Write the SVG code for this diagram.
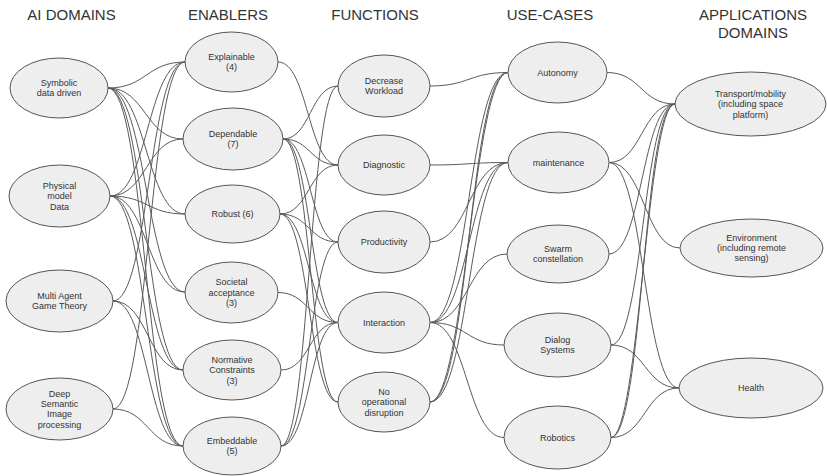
<svg xmlns="http://www.w3.org/2000/svg" width="827" height="476" viewBox="0 0 827 476">
<style>
.bg{fill:#ffffff}
.n ellipse{fill:#eeeeee;stroke:#555555;stroke-width:1}
.n text{font-family:"Liberation Sans",Arial,sans-serif;font-size:9px;fill:#333333;text-anchor:middle}
.t{font-family:"Liberation Sans",Arial,sans-serif;font-size:15px;fill:#333333;text-anchor:middle}
#edges path{fill:none;stroke:#5a5a5a;stroke-width:1}
</style>
<rect class="bg" x="0" y="0" width="827" height="476"/>
<g id="titles">
<text class="t" x="71.5" y="19.5">AI DOMAINS</text>
<text class="t" x="228" y="19.5">ENABLERS</text>
<text class="t" x="375" y="19.5">FUNCTIONS</text>
<text class="t" x="550" y="19.5">USE-CASES</text>
<text class="t" x="753" y="19.5">APPLICATIONS</text>
<text class="t" x="753" y="37.5">DOMAINS</text>
</g>
<g id="edges">
<!-- AI domains -> enablers -->
<path d="M108,88 C146.5,88 146.5,62 185,62"/>
<path d="M108,88 C145.5,88 145.5,139 183,139"/>
<path d="M108,88 C146.5,88 146.5,214 185,214"/>
<path d="M108,88 C146.5,88 146.5,292 185,292"/>
<path d="M108,88 C145.5,88 145.5,370 183,370"/>
<path d="M108,88 C145.5,88 145.5,446 183,446"/>
<path d="M110,196 C147.5,196 147.5,62 185,62"/>
<path d="M110,196 C146.5,196 146.5,139 183,139"/>
<path d="M110,196 C147.5,196 147.5,214 185,214"/>
<path d="M110,196 C147.5,196 147.5,292 185,292"/>
<path d="M110,196 C146.5,196 146.5,370 183,370"/>
<path d="M110,196 C146.5,196 146.5,446 183,446"/>
<path d="M113,301 C149,301 149,62 185,62"/>
<path d="M113,301 C148,301 148,370 183,370"/>
<path d="M113,301 C148,301 148,446 183,446"/>
<path d="M113,409 C149,409 149,62 185,62"/>
<path d="M113,409 C148,409 148,446 183,446"/>
<!-- enablers -> functions -->
<path d="M278,62 C308,62 308,165 338,165"/>
<path d="M283,139 C310.5,139 310.5,86 338,86"/>
<path d="M283,139 C310.5,139 310.5,165 338,165"/>
<path d="M283,139 C310.5,139 310.5,242 338,242"/>
<path d="M283,139 C310.5,139 310.5,322.5 338,322.5"/>
<path d="M283,139 C310.5,139 310.5,402 338,402"/>
<path d="M280,214 C309,214 309,165 338,165"/>
<path d="M280,214 C309,214 309,242 338,242"/>
<path d="M280,214 C309,214 309,322.5 338,322.5"/>
<path d="M280,214 C309,214 309,402 338,402"/>
<path d="M278,292.5 C308,292.5 308,322.5 338,322.5"/>
<path d="M281,370 C309.5,370 309.5,322.5 338,322.5"/>
<path d="M281,446 C309.5,446 309.5,322.5 338,322.5"/>
<path d="M281,446 C309.5,446 309.5,86 338,86"/>
<path d="M281,446 C309.5,446 309.5,242 338,242"/>
<!-- functions -> use-cases -->
<path d="M430,86 C469,86 469,72.5 508,72.5"/>
<path d="M430,165 C469,165 469,162.5 508,162.5"/>
<path d="M430,242 C469,242 469,162.5 508,162.5"/>
<path d="M430,322.5 C469,322.5 469,72.5 508,72.5"/>
<path d="M430,322.5 C469,322.5 469,162.5 508,162.5"/>
<path d="M430,322.5 C468.5,322.5 468.5,254 507,254"/>
<path d="M430,322.5 C467,322.5 467,345 504,345"/>
<path d="M430,322.5 C467,322.5 467,437.5 504,437.5"/>
<path d="M430,402 C469,402 469,72.5 508,72.5"/>
<path d="M430,402 C465,402 473,72.5 508,72.5"/>
<path d="M430,402 C469,402 469,162.5 508,162.5"/>
<!-- use-cases -> application domains -->
<path d="M607,72.5 C641,72.5 641,104 675,104"/>
<path d="M609,162.5 C642,162.5 642,104 675,104"/>
<path d="M609,162.5 C644.5,162.5 644.5,248 680,248"/>
<path d="M609,162.5 C644,162.5 644,388 679,388"/>
<path d="M609,254 C642,254 642,104 675,104"/>
<path d="M611,345 C643,345 643,104 675,104"/>
<path d="M611,345 C645,345 645,388 679,388"/>
<path d="M611,437.5 C643,437.5 643,104 675,104"/>
<path d="M611,437.5 C639,437.5 647,104 675,104"/>
<path d="M611,437.5 C645,437.5 645,388 679,388"/>
</g>
<g id="n-symbolic" class="n"><ellipse cx="59" cy="88" rx="49" ry="30"/><text x="59" y="86">Symbolic</text><text x="59" y="96.4">data driven</text></g>
<g id="n-physical" class="n"><ellipse cx="59.5" cy="196" rx="50.5" ry="31"/><text x="59.5" y="188.8">Physical</text><text x="59.5" y="199.2">model</text><text x="59.5" y="209.6">Data</text></g>
<g id="n-multiagent" class="n"><ellipse cx="59.5" cy="301" rx="53.5" ry="31"/><text x="59.5" y="299">Multi Agent</text><text x="59.5" y="309.4">Game Theory</text></g>
<g id="n-deepsemantic" class="n"><ellipse cx="59.5" cy="409" rx="53.5" ry="31"/><text x="59.5" y="396.6">Deep</text><text x="59.5" y="407">Semantic</text><text x="59.5" y="417.4">Image</text><text x="59.5" y="427.8">processing</text></g>
<g id="n-explainable" class="n"><ellipse cx="231.5" cy="62" rx="46.5" ry="30"/><text x="231.5" y="60">Explainable</text><text x="231.5" y="70.4">(4)</text></g>
<g id="n-dependable" class="n"><ellipse cx="233" cy="139" rx="50" ry="31"/><text x="233" y="137">Dependable</text><text x="233" y="147.4">(7)</text></g>
<g id="n-robust" class="n"><ellipse cx="232.5" cy="214" rx="47.5" ry="29"/><text x="232.5" y="217.2">Robust (6)</text></g>
<g id="n-societal" class="n"><ellipse cx="231.5" cy="292.5" rx="46.5" ry="30.5"/><text x="231.5" y="285.3">Societal</text><text x="231.5" y="295.7">acceptance</text><text x="231.5" y="306.1">(3)</text></g>
<g id="n-normative" class="n"><ellipse cx="232" cy="370" rx="49" ry="30"/><text x="232" y="362.8">Normative</text><text x="232" y="373.2">Constraints</text><text x="232" y="383.6">(3)</text></g>
<g id="n-embeddable" class="n"><ellipse cx="232" cy="446" rx="49" ry="29"/><text x="232" y="444">Embeddable</text><text x="232" y="454.4">(5)</text></g>
<g id="n-decrease" class="n"><ellipse cx="384" cy="86" rx="46" ry="31"/><text x="384" y="84">Decrease</text><text x="384" y="94.4">Workload</text></g>
<g id="n-diagnostic" class="n"><ellipse cx="384" cy="165" rx="46" ry="30"/><text x="384" y="168.2">Diagnostic</text></g>
<g id="n-productivity" class="n"><ellipse cx="384" cy="242" rx="46" ry="31"/><text x="384" y="245.2">Productivity</text></g>
<g id="n-interaction" class="n"><ellipse cx="384" cy="322.5" rx="46" ry="30.5"/><text x="384" y="325.7">Interaction</text></g>
<g id="n-nooperational" class="n"><ellipse cx="384" cy="402" rx="46" ry="30"/><text x="384" y="394.8">No</text><text x="384" y="405.2">operational</text><text x="384" y="415.6">disruption</text></g>
<g id="n-autonomy" class="n"><ellipse cx="557.5" cy="72.5" rx="49.5" ry="30.5"/><text x="557.5" y="75.7">Autonomy</text></g>
<g id="n-maintenance" class="n"><ellipse cx="558.5" cy="162.5" rx="50.5" ry="30.5"/><text x="558.5" y="165.7">maintenance</text></g>
<g id="n-swarm" class="n"><ellipse cx="558" cy="254" rx="51" ry="29"/><text x="558" y="251.5">Swarm</text><text x="558" y="261.9">constellation</text></g>
<g id="n-dialog" class="n"><ellipse cx="557.5" cy="345" rx="53.5" ry="32"/><text x="557.5" y="343">Dialog</text><text x="557.5" y="353.4">Systems</text></g>
<g id="n-robotics" class="n"><ellipse cx="557.5" cy="437.5" rx="53.5" ry="31.5"/><text x="557.5" y="440.7">Robotics</text></g>
<g id="n-transport" class="n"><ellipse cx="750.5" cy="104" rx="75.5" ry="32"/><text x="750.5" y="97">Transport/mobility</text><text x="750.5" y="107.4">(including space</text><text x="750.5" y="117.8">platform)</text></g>
<g id="n-environment" class="n"><ellipse cx="751.5" cy="248" rx="71.5" ry="29"/><text x="751.5" y="240.5">Environment</text><text x="751.5" y="250.9">(including remote</text><text x="751.5" y="261.3">sensing)</text></g>
<g id="n-health" class="n"><ellipse cx="751" cy="388" rx="72" ry="30"/><text x="751" y="391.2">Health</text></g>
</svg>
